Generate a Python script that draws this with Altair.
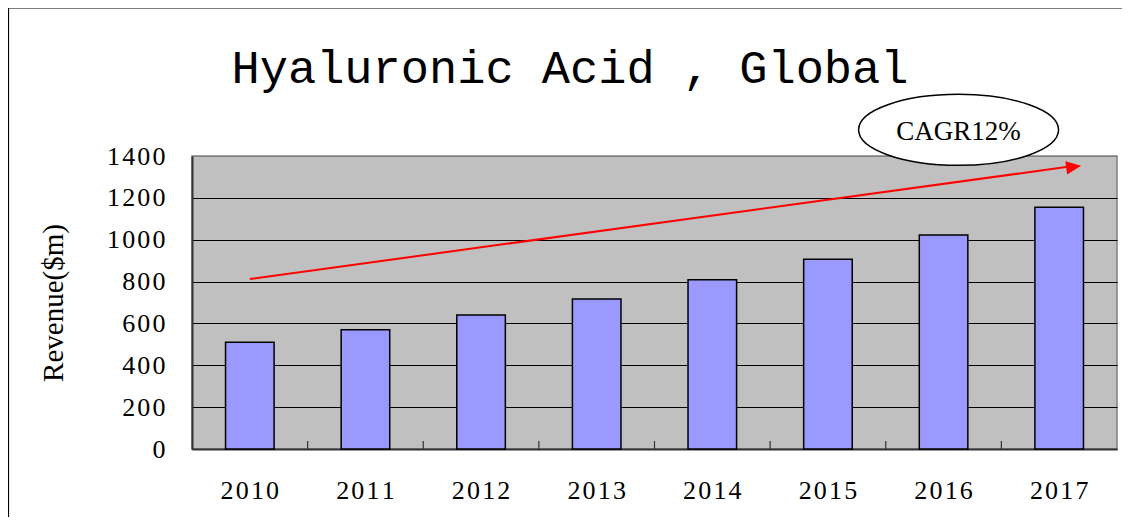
import altair as alt
import pandas as pd

# ---- data ----
years = ["2010", "2011", "2012", "2013", "2014", "2015", "2016", "2017"]
revenue = [510, 570, 640, 717, 809, 907, 1023, 1155]

arrow_years = ["2010", "2017"]
arrow_values = [812, 1352]

cagr_label = ["CAGR12%"]
cagr_year = ["2016"]
cagr_value = [1525]

y_ticks = [0, 200, 400, 600, 800, 1000, 1200, 1400]
title_text = ["Hyaluronic Acid , Global"]
y_title = "Revenue($m)"

# ---- layout ----
W, H = 925, 293
band = W / len(years)

bars_df = pd.DataFrame({"year": years, "revenue": revenue})
ticks_df = pd.DataFrame({"year": years[1:]})
arrow_df = pd.DataFrame({"year": [arrow_years[0]], "year_end": [arrow_years[1]],
                         "revenue": [arrow_values[0]], "revenue_end": [arrow_values[1]]})
head_df = pd.DataFrame({"year": [arrow_years[1]], "revenue": [arrow_values[1] - 4]})
cagr_df = pd.DataFrame({"year": cagr_year, "revenue": cagr_value, "label": cagr_label})
title_df = pd.DataFrame({"label": title_text})

x_scale = alt.Scale(domain=years, paddingInner=0, paddingOuter=0)
y_scale = alt.Scale(domain=[0, 1400], nice=False)

spaced = "join(split(datum.label, ''), '\u200a')"

x_axis = alt.Axis(title=None, labelAngle=0, ticks=False, labelPadding=28,
                  labelFont="Liberation Serif", labelFontSize=26, labelColor="black",
                  labelExpr=spaced,
                  domainColor="#333333", domainWidth=2, grid=False)
y_axis = alt.Axis(values=y_ticks, format="d", title=y_title, titleFont="Liberation Serif",
                  titleFontSize=29, titleFontWeight="normal", titleColor="black",
                  titlePadding=38, labelFont="Liberation Serif", labelFontSize=26,
                  labelExpr=spaced,
                  labelColor="black", ticks=False, labelPadding=27,
                  grid=True, gridWidth=1,
                  gridColor=alt.condition("datum.value == 1400", alt.value("#808080"), alt.value("black")),
                  domainColor="#333333", domainWidth=2)

X = alt.X("year:N", scale=x_scale, sort=years, axis=x_axis)
Y = alt.Y("revenue:Q", scale=y_scale, axis=y_axis)

frame_top = alt.Chart(title_df).mark_rule(color="black", strokeWidth=1.2).encode(
    x=alt.value(-183.5), x2=alt.value(W + 10), y=alt.value(-148)
)
frame_left = alt.Chart(title_df).mark_rule(color="black", strokeWidth=1.2).encode(
    x=alt.value(-183.5), y=alt.value(-148), y2=alt.value(H + 80)
)

title = alt.Chart(title_df).mark_text(
    font="Liberation Mono", fontSize=47, color="black", baseline="alphabetic", align="center"
).encode(x=alt.value(378), y=alt.value(-73), text="label:N")

bars = alt.Chart(bars_df).mark_bar(
    width=alt.RelativeBandSize(0.42), color="#9999FF", stroke="black", strokeWidth=1.5
).encode(x=X, y=Y)

inner_ticks = alt.Chart(ticks_df).mark_rule(color="#333333", strokeWidth=1.2, xOffset=-band / 2).encode(
    x=X, y=alt.value(H), y2=alt.value(H - 8),
)

arrow = alt.Chart(arrow_df).mark_rule(color="red", strokeWidth=2, x2Offset=14).encode(
    x=X, x2="year_end:N", y=Y, y2="revenue_end:Q",
)

head = alt.Chart(head_df).mark_point(
    shape="M -1 -0.9 L 1 0 L -1 0.9 Z", size=225, filled=True, color="red",
    opacity=1, angle=352, xOffset=14.5
).encode(x=X, y=Y)

ellipse = alt.Chart(cagr_df).mark_point(
    shape="M -1 0 A 1 0.355 0 1 0 1 0 A 1 0.355 0 1 0 -1 0 Z", size=40000,
    filled=True, fill="white", stroke="black", strokeWidth=1.5, opacity=1, xOffset=15
).encode(x=X, y=Y)

cagr_text = alt.Chart(cagr_df).mark_text(
    font="Liberation Serif", fontSize=27, color="black", baseline="middle",
    align="center", xOffset=15, dy=2
).encode(x=X, y=Y, text="label:N")

chart = alt.layer(frame_top, frame_left, title, bars, inner_ticks, arrow, head, ellipse,
                  cagr_text).properties(
    width=W, height=H,
    padding={"left": 184, "top": 148, "right": 5, "bottom": 68},
    autosize=alt.AutoSizeParams(type="none"),
    background="white",
).configure_view(fill="#C0C0C0", stroke="#808080", strokeWidth=1.5)

chart.save("out.html", embed_options={"renderer": "svg", "actions": False})
